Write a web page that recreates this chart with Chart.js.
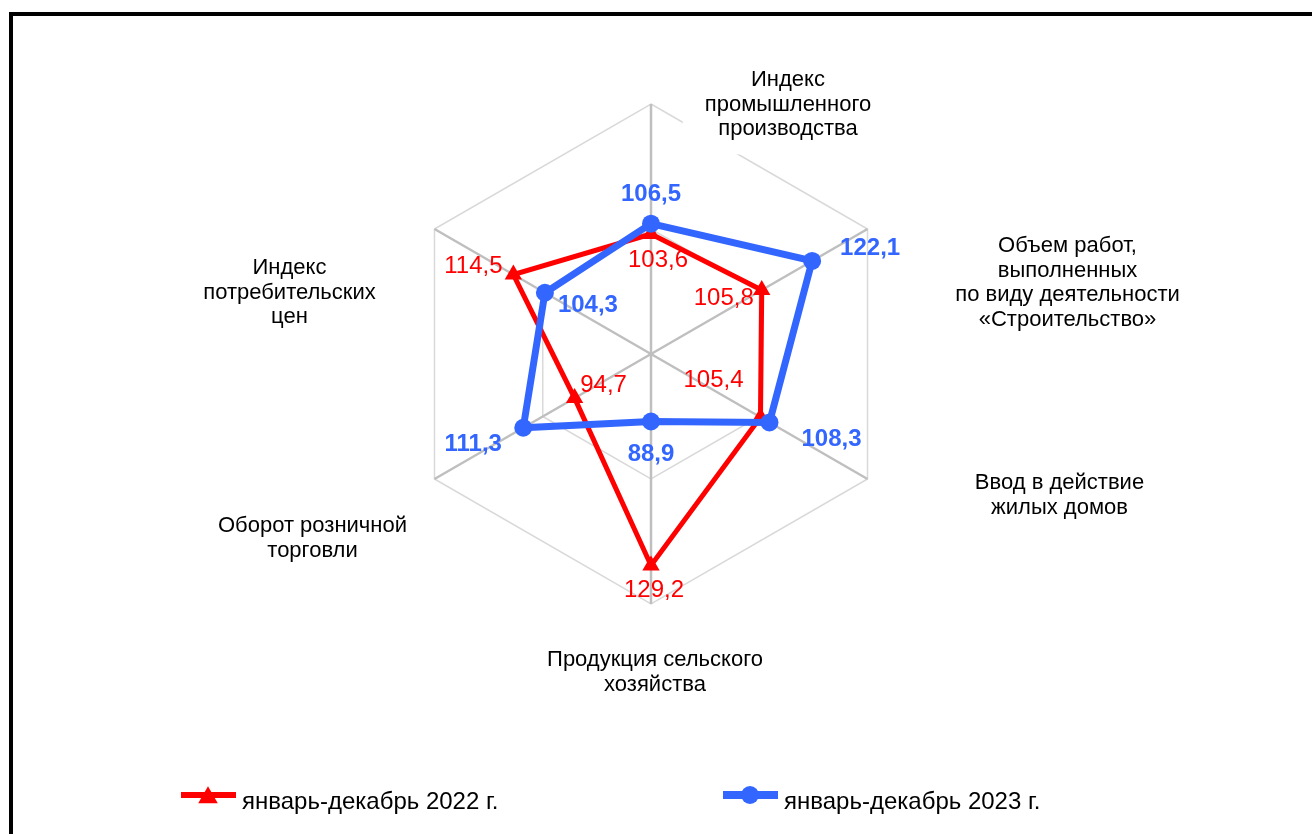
<!DOCTYPE html>
<html lang="ru">
<head>
<meta charset="utf-8">
<title>Показатели 2022–2023</title>
<script src="https://cdn.jsdelivr.net/npm/chart.js@4.4.1/dist/chart.umd.min.js"></script>
<style>
    html, body { margin: 0; padding: 0; background: #fff; overflow: hidden; }
    #wrap { position: relative; width: 1312px; height: 834px; }
    #wrap canvas { position: absolute; left: 0; top: 0; }
    #frame {
        position: absolute; left: 9px; top: 12px; width: 1400px; height: 900px;
        border: 4px solid #000; box-sizing: border-box; pointer-events: none;
    }
</style>
</head>
<body>
<div id="wrap">
    <canvas id="radar-chart" width="1312" height="834"></canvas>
    <div id="frame"></div>
</div>
<script>
const categories = [
    ['Индекс', 'промышленного', 'производства'],
    ['Объем работ,', 'выполненных', 'по виду деятельности', '«Строительство»'],
    ['Ввод в действие', 'жилых домов'],
    ['Продукция сельского', 'хозяйства'],
    ['Оборот розничной', 'торговли'],
    ['Индекс', 'потребительских', 'цен']
];
const seriesNames = ['январь-декабрь 2022 г.', 'январь-декабрь 2023 г.'];
const values2022 = [103.6, 105.8, 105.4, 129.2, 94.7, 114.5];
const values2023 = [106.5, 122.1, 108.3, 88.9, 111.3, 104.3];
const scaleTicks = [70, 105, 140];

const FONT = "'Liberation Sans', Arial, sans-serif";
const RED = '#ff0000';
const BLUE = '#3366ff';

// offsets of captions from the tip of each spoke, and of value labels from their point
const captionShift = [[137, -24], [200, 17], [192, 4], [4, 56], [-122, 47], [-145, 39]];
const labelShift2022 = [[7, 24], [-38, 6], [-47, -39], [3, 23], [29, -15], [-40, -10]];
const labelShift2023 = [[0, -31], [58, -15], [62, 15], [0, 31], [-50, 15], [43, 11]];
const legendSpots = [{ x: 181, y: 795 }, { x: 723, y: 795 }];

const captions = {
    id: 'captions',
    beforeDatasetsDraw(chart) {
        const ctx = chart.ctx;
        const r = chart.scales.r;
        const lineH = 24.7;
        ctx.save();
        ctx.font = `22px ${FONT}`;
        ctx.textAlign = 'center';
        ctx.textBaseline = 'middle';
        categories.forEach((lines, i) => {
            const tip = r.getPointPosition(i, r.drawingArea);
            const cx = tip.x + captionShift[i][0];
            const cy = tip.y + captionShift[i][1];
            const w = Math.max(...lines.map(l => ctx.measureText(l).width));
            ctx.fillStyle = '#fff';
            ctx.fillRect(cx - w / 2 - 22, cy - 25, w + 44, (lines.length - 1) * lineH + 50);
            ctx.fillStyle = '#000';
            lines.forEach((l, k) => ctx.fillText(l, cx, cy + k * lineH));
        });
        ctx.restore();
    }
};

const valueLabels = {
    id: 'valueLabels',
    afterDatasetsDraw(chart) {
        const ctx = chart.ctx;
        ctx.save();
        ctx.textAlign = 'center';
        ctx.textBaseline = 'alphabetic';
        chart.data.datasets.forEach((ds, di) => {
            const meta = chart.getDatasetMeta(di);
            ctx.font = `${ds.labelWeight} 24px ${FONT}`;
            ctx.fillStyle = ds.borderColor;
            meta.data.forEach((pt, i) => {
                const txt = ds.data[i].toFixed(1).replace('.', ',');
                ctx.fillText(txt, pt.x + ds.labelShift[i][0], pt.y + ds.labelShift[i][1] + 8.6);
            });
        });
        ctx.restore();
    }
};

const bottomLegend = {
    id: 'bottomLegend',
    afterDraw(chart) {
        const ctx = chart.ctx;
        ctx.save();
        chart.data.datasets.forEach((ds, di) => {
            const spot = legendSpots[di];
            const isTri = ds.pointStyle === 'triangle';
            ctx.strokeStyle = ds.borderColor;
            ctx.lineWidth = ds.borderWidth + 1;
            ctx.beginPath();
            ctx.moveTo(spot.x, spot.y);
            ctx.lineTo(spot.x + 55, spot.y);
            ctx.stroke();
            ctx.fillStyle = ds.borderColor;
            Chart.helpers.drawPoint(ctx, {
                pointStyle: ds.pointStyle,
                radius: isTri ? 11.3 : ds.pointRadius,
                borderWidth: 0,
                rotation: 0
            }, spot.x + 27, spot.y + (isTri ? 2.5 : 0));
            ctx.fillStyle = '#000';
            ctx.font = `24px ${FONT}`;
            ctx.textAlign = 'left';
            ctx.textBaseline = 'alphabetic';
            ctx.fillText(ds.label, spot.x + 61, spot.y + 14);
        });
        ctx.restore();
    }
};

new Chart(document.getElementById('radar-chart'), {
    type: 'radar',
    data: {
        labels: categories,
        datasets: [{
            label: seriesNames[0],
            data: values2022,
            borderColor: RED,
            borderWidth: 5,
            fill: false,
            pointStyle: 'triangle',
            pointRadius: 10,
            pointBorderWidth: 0,
            pointBackgroundColor: RED,
            labelWeight: 'normal',
            labelShift: labelShift2022,
            order: 1
        }, {
            label: seriesNames[1],
            data: values2023,
            borderColor: BLUE,
            borderWidth: 7,
            fill: false,
            pointStyle: 'circle',
            pointRadius: 9,
            pointBorderWidth: 0,
            pointBackgroundColor: BLUE,
            labelWeight: 'bold',
            labelShift: labelShift2023,
            order: 0
        }]
    },
    options: {
        responsive: false,
        animation: false,
        layout: { padding: { left: 401, right: 411, top: 104, bottom: 230 } },
        plugins: { legend: { display: false }, tooltip: { enabled: false } },
        elements: { line: { tension: 0 } },
        scales: {
            r: {
                min: scaleTicks[0],
                max: scaleTicks[scaleTicks.length - 1],
                ticks: { display: false, stepSize: scaleTicks[1] - scaleTicks[0] },
                grid: { color: '#d9d9d9', lineWidth: 1.5 },
                angleLines: { color: '#bfbfbf', lineWidth: 2.5 },
                pointLabels: { display: false }
            }
        }
    },
    plugins: [captions, valueLabels, bottomLegend]
});
</script>
</body>
</html>
